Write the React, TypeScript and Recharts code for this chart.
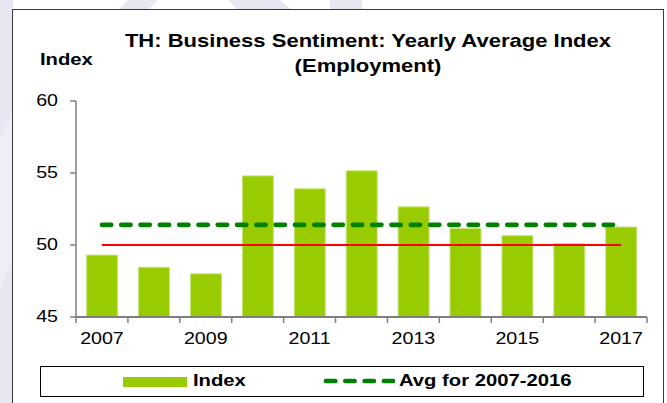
import React from 'react'
import { ComposedChart, Bar, Line, XAxis, YAxis } from 'recharts'

const YEARS = ['2007', '2008', '2009', '2010', '2011', '2012', '2013', '2014', '2015', '2016', '2017']
const INDEX = [49.3, 48.45, 48.0, 54.8, 53.9, 55.15, 52.65, 51.15, 50.65, 50.1, 51.25]
const AVG_2007_2016 = 51.4
const NEUTRAL = 50
const Y_TICKS = [45, 50, 55, 60]

const data = YEARS.map((year, i) => ({
  year,
  index: INDEX[i],
  avg: AVG_2007_2016,
  neutral: NEUTRAL,
}))

const W = 667
const H = 403
const PLOT_LEFT = 76
const PLOT_RIGHT = 647
const PLOT_TOP = 101
const PLOT_BOTTOM = 317
const BAND = (PLOT_RIGHT - PLOT_LEFT) / YEARS.length
const SX = 1.19
const FONT = '"Liberation Sans", Arial, sans-serif'
const AXIS = '#7f7f7f'
const DASH = '9.3 10'

function XTick(props: any) {
  const { x, index, payload } = props
  const left = x - BAND / 2
  const last = index === YEARS.length - 1
  return (
    <g>
      <line x1={left} x2={left} y1={PLOT_BOTTOM} y2={PLOT_BOTTOM + 6} stroke={AXIS} strokeWidth={1.5} />
      {last && <line x1={left + BAND} x2={left + BAND} y1={PLOT_BOTTOM} y2={PLOT_BOTTOM + 6} stroke={AXIS} strokeWidth={1.5} />}
      {index % 2 === 0 && (
        <text transform={`translate(${x} 339) scale(${SX} 1)`} textAnchor="middle" dominantBaseline="central" fontSize={16.5} fontFamily={FONT} fill="#000">
          {payload.value}
        </text>
      )}
    </g>
  )
}

function YTick(props: any) {
  const { y, payload } = props
  return (
    <text transform={`translate(58 ${y}) scale(${SX} 1)`} textAnchor="end" dominantBaseline="central" fontSize={16.5} fontFamily={FONT} fill="#000">
      {payload.value}
    </text>
  )
}

const boldText = (size: number): React.CSSProperties => ({
  position: 'absolute',
  fontWeight: 'bold',
  fontSize: size,
  whiteSpace: 'nowrap',
  transform: `scaleX(${SX})`,
})

export default function App() {
  return (
    <div style={{ position: 'fixed', left: 0, top: 0, width: W, height: H, overflow: 'hidden', background: '#fff', fontFamily: FONT }}>
      {/* faint watermark behind the frame */}
      <svg width={W} height={H} style={{ position: 'absolute', left: 0, top: 0 }}>
        <rect x={0} y={0} width={13} height={H} fill="#e7e7f2" />
        <polygon points="0,140 13,110 13,260 0,290" fill="#eeeef6" />
        <polygon points="128,0 158,0 148,10 118,10" fill="#e7e7f2" />
        <polygon points="228,0 280,0 292,10 238,10" fill="#e7e7f2" />
        <polygon points="330,0 362,0 362,10 330,10" fill="#e7e7f2" />
      </svg>
      <div style={{ position: 'absolute', left: 12, top: 9, width: 650, height: 420, border: '1px solid #3a3a3a', background: '#fff' }} />
      <div style={{ ...boldText(18.5), left: 68, top: 28, width: 600, textAlign: 'center', lineHeight: '25px', transformOrigin: '50% 0' }}>
        TH: Business Sentiment: Yearly Average Index
        <br />
        (Employment)
      </div>
      <div style={{ ...boldText(17), left: 40, top: 49, lineHeight: '22px', transformOrigin: '0 0' }}>Index</div>
      <div style={{ position: 'absolute', left: 0, top: 0 }}>
        <ComposedChart width={W} height={H} data={data} margin={{ top: PLOT_TOP, right: W - PLOT_RIGHT, bottom: 46, left: 0 }} barCategoryGap="20.5%">
          <XAxis dataKey="year" interval={0} height={40} tickLine={false} axisLine={{ stroke: AXIS, strokeWidth: 2 }} tick={<XTick />} />
          <YAxis width={PLOT_LEFT} domain={[45, 60]} ticks={Y_TICKS} allowDataOverflow tickSize={6} tickLine={{ stroke: AXIS, strokeWidth: 1.5 }} axisLine={{ stroke: AXIS, strokeWidth: 1.5 }} tick={<YTick />} />
          <Bar dataKey="index" name="Index" fill="#99cc00" stroke="#c6e47a" strokeWidth={1} isAnimationActive={false} />
          <Line dataKey="neutral" stroke="#ff0000" strokeWidth={2.2} dot={false} activeDot={false} isAnimationActive={false} legendType="none" />
          <Line dataKey="avg" name="Avg for 2007-2016" stroke="#008000" strokeWidth={4.7} strokeDasharray={DASH} strokeLinecap="round" dot={false} activeDot={false} isAnimationActive={false} />
        </ComposedChart>
      </div>
      <div style={{ position: 'absolute', left: 40, top: 366, width: 602, height: 29, border: '1.5px solid #000', background: '#fff' }}>
        <div style={{ position: 'absolute', left: 82, top: 10, width: 64, height: 10, background: '#99cc00' }} />
        <div style={{ ...boldText(17), left: 152, top: 3, lineHeight: '22px', transformOrigin: '0 0' }}>Index</div>
        <svg style={{ position: 'absolute', left: 282, top: 8 }} width={72} height={12}>
          <line x1={3} x2={70} y1={6} y2={6} stroke="#008000" strokeWidth={4.7} strokeDasharray={DASH} strokeLinecap="round" />
        </svg>
        <div style={{ ...boldText(17), left: 358, top: 3, lineHeight: '22px', transformOrigin: '0 0' }}>Avg for 2007-2016</div>
      </div>
    </div>
  )
}
